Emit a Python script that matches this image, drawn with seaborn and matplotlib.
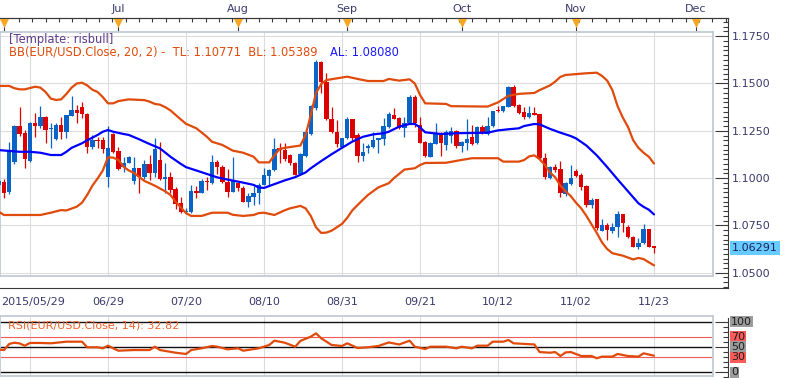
"""
EUR/USD daily candles with Bollinger Bands (20, 2) and RSI(14), 2015/05/29 - 2015/11/23.
Rebuilt as a static seaborn/matplotlib figure, saved to out.png.
"""
import matplotlib

matplotlib.use("Agg")
import matplotlib.pyplot as plt
import matplotlib.transforms as mtransforms
import numpy as np
import pandas as pd
import seaborn as sns
from matplotlib.ticker import FixedLocator

# ---------------------------------------------------------------- data
# bar index 0 = 2015/05/29, one bar per trading day, 126 = 2015/11/23
OPEN = [1.0965, 1.0981, 1.0925, 1.1087, 1.1277, 1.1238, 1.1092, 1.1293, 1.1277, 1.1324,
        1.1258, 1.1207, 1.1281, 1.1245, 1.1330, 1.1360, 1.1374, 1.1339, 1.1166, 1.1201,
        1.1201, 1.1004, 1.1233, 1.1145, 1.1060, 1.1081, 1.0986, 1.1052, 1.1007, 1.1073,
        1.1029, 1.1096, 1.0994, 1.1007, 1.0942, 1.0867, 1.0822, 1.0822, 1.0932, 1.0923,
        1.0986, 1.0976, 1.1087, 1.1057, 1.0981, 1.0928, 1.0972, 1.0946, 1.0875, 1.0902,
        1.0920, 1.0964, 1.1013, 1.1043, 1.1157, 1.1148, 1.1122, 1.1078, 1.1020, 1.1118,
        1.1231, 1.1369, 1.1615, 1.1509, 1.1312, 1.1242, 1.1166, 1.1210, 1.1312, 1.1228,
        1.1118, 1.1161, 1.1166, 1.1201, 1.1207, 1.1272, 1.1333, 1.1316, 1.1263, 1.1290,
        1.1430, 1.1281, 1.1192, 1.1113, 1.1180, 1.1228, 1.1175, 1.1222, 1.1249, 1.1170,
        1.1184, 1.1219, 1.1184, 1.1272, 1.1233, 1.1275, 1.1356, 1.1356, 1.1377, 1.1480,
        1.1386, 1.1351, 1.1321, 1.1342, 1.1339, 1.1105, 1.0999, 1.1057, 1.1048, 1.0916,
        1.0969, 1.1039, 1.1016, 1.0958, 1.0858, 1.0888, 1.0722, 1.0752, 1.0722, 1.0740,
        1.0810, 1.0740, 1.0690, 1.0637, 1.0655, 1.0729, 1.0641]
HIGH = [1.0998, 1.0995, 1.1192, 1.1280, 1.1376, 1.1254, 1.1298, 1.1344, 1.1381, 1.1330,
        1.1290, 1.1293, 1.1324, 1.1336, 1.1434, 1.1386, 1.1404, 1.1342, 1.1228, 1.1215,
        1.1215, 1.1277, 1.1238, 1.1163, 1.1113, 1.1117, 1.1111, 1.1055, 1.1096, 1.1122,
        1.1210, 1.1189, 1.1080, 1.1034, 1.0955, 1.0899, 1.0840, 1.0964, 1.0958, 1.0994,
        1.1007, 1.1122, 1.1096, 1.1069, 1.1048, 1.1110, 1.0981, 1.0958, 1.0920, 1.0958,
        1.0972, 1.1052, 1.1046, 1.1210, 1.1184, 1.1184, 1.1126, 1.1087, 1.1131, 1.1245,
        1.1386, 1.1624, 1.1618, 1.1555, 1.1377, 1.1307, 1.1212, 1.1324, 1.1314, 1.1237,
        1.1184, 1.1179, 1.1245, 1.1212, 1.1316, 1.1351, 1.1369, 1.1321, 1.1321, 1.1439,
        1.1439, 1.1321, 1.1194, 1.1192, 1.1293, 1.1245, 1.1254, 1.1272, 1.1254, 1.1194,
        1.1311, 1.1281, 1.1275, 1.1281, 1.1321, 1.1357, 1.1381, 1.1383, 1.1487, 1.1492,
        1.1391, 1.1377, 1.1381, 1.1374, 1.1341, 1.1134, 1.1062, 1.1075, 1.1092, 1.0981,
        1.1069, 1.1047, 1.1025, 1.0964, 1.0893, 1.0890, 1.0782, 1.0761, 1.0764, 1.0828,
        1.0812, 1.0752, 1.0692, 1.0682, 1.0757, 1.0731, 1.0643]
LOW = [1.0950, 1.0895, 1.0915, 1.1077, 1.1222, 1.1053, 1.1087, 1.1217, 1.1265, 1.1184,
       1.1157, 1.1201, 1.1208, 1.1210, 1.1328, 1.1293, 1.1316, 1.1134, 1.1152, 1.1157,
       1.1134, 1.0955, 1.1132, 1.1043, 1.1034, 1.1078, 1.0969, 1.0920, 1.0994, 1.0990,
       1.1007, 1.0990, 1.0921, 1.0923, 1.0835, 1.0816, 1.0810, 1.0816, 1.0895, 1.0920,
       1.0937, 1.0969, 1.1022, 1.0972, 1.0899, 1.0925, 1.0933, 1.0872, 1.0849, 1.0858,
       1.0863, 1.0962, 1.0964, 1.1038, 1.1078, 1.1090, 1.1069, 1.1014, 1.1016, 1.1113,
       1.1228, 1.1360, 1.1448, 1.1307, 1.1240, 1.1166, 1.1161, 1.1208, 1.1201, 1.1087,
       1.1090, 1.1131, 1.1161, 1.1131, 1.1175, 1.1266, 1.1310, 1.1261, 1.1216, 1.1288,
       1.1272, 1.1184, 1.1113, 1.1110, 1.1178, 1.1117, 1.1148, 1.1184, 1.1157, 1.1139,
       1.1148, 1.1175, 1.1180, 1.1233, 1.1228, 1.1272, 1.1351, 1.1351, 1.1374, 1.1377,
       1.1339, 1.1311, 1.1316, 1.1335, 1.1092, 1.0994, 1.0994, 1.1034, 1.0899, 1.0905,
       1.0964, 1.1007, 1.0937, 1.0846, 1.0840, 1.0726, 1.0720, 1.0673, 1.0708, 1.0690,
       1.0717, 1.0682, 1.0634, 1.0623, 1.0652, 1.0634, 1.0602]
CLOSE = [1.0987, 1.0923, 1.1148, 1.1277, 1.1233, 1.1101, 1.1293, 1.1277, 1.1324, 1.1254,
         1.1265, 1.1281, 1.1245, 1.1333, 1.1360, 1.1342, 1.1337, 1.1166, 1.1201, 1.1196,
         1.1154, 1.1157, 1.1139, 1.1047, 1.1081, 1.1110, 1.1052, 1.1007, 1.1073, 1.1029,
         1.1152, 1.0994, 1.1007, 1.0937, 1.0863, 1.0822, 1.0826, 1.0932, 1.0923, 1.0986,
         1.0978, 1.1087, 1.1057, 1.0981, 1.0928, 1.0986, 1.0946, 1.0875, 1.0905, 1.0920,
         1.0964, 1.1016, 1.1043, 1.1154, 1.1148, 1.1101, 1.1078, 1.1016, 1.1126, 1.1242,
         1.1383, 1.1614, 1.1509, 1.1312, 1.1242, 1.1179, 1.1210, 1.1312, 1.1210, 1.1118,
         1.1139, 1.1171, 1.1201, 1.1210, 1.1277, 1.1337, 1.1312, 1.1263, 1.1290, 1.1430,
         1.1290, 1.1187, 1.1117, 1.1184, 1.1231, 1.1184, 1.1245, 1.1249, 1.1170, 1.1192,
         1.1205, 1.1180, 1.1272, 1.1237, 1.1275, 1.1355, 1.1353, 1.1381, 1.1480, 1.1381,
         1.1342, 1.1321, 1.1342, 1.1335, 1.1105, 1.1004, 1.1060, 1.1043, 1.0920, 1.0976,
         1.0999, 1.1011, 1.0951, 1.0858, 1.0884, 1.0735, 1.0752, 1.0726, 1.0743, 1.0810,
         1.0761, 1.0687, 1.0637, 1.0659, 1.0729, 1.0637, 1.06291]

# Bollinger Bands (20, 2) at these bars
BB_UP_BAR = [0, 2, 3, 4, 5, 7, 8, 9, 10, 11, 12, 13, 14, 15, 16, 17, 18, 19, 20, 21, 22, 23, 25,
             28, 29, 30, 31, 32, 33, 35, 36, 38, 40, 41, 43, 45, 47, 49, 50, 52, 53, 54, 55, 58,
             59, 60, 61, 62, 63, 67, 69, 71, 74, 75, 77, 79, 80, 81, 82, 86, 87, 94, 96, 98,
             100, 103, 104, 106, 107, 108, 109, 113, 115, 116, 117, 118, 119, 120, 121, 122,
             123, 124, 125, 126]
BB_UP = [1.1487, 1.1487, 1.1475, 1.1469, 1.1469, 1.1483, 1.1478, 1.1455, 1.1420, 1.1413, 1.1416,
         1.1445, 1.1478, 1.1500, 1.1504, 1.1490, 1.1467, 1.1455, 1.1428, 1.1395, 1.1395, 1.1407,
         1.1416, 1.1412, 1.1404, 1.1392, 1.1388, 1.1375, 1.1358, 1.1310, 1.1287, 1.1263, 1.1219,
         1.1192, 1.1175, 1.1145, 1.1134, 1.1113, 1.1083, 1.1083, 1.1120, 1.1154, 1.1160, 1.1172,
         1.1228, 1.1333, 1.1450, 1.1497, 1.1518, 1.1536, 1.1524, 1.1513, 1.1513, 1.1524, 1.1515,
         1.1522, 1.1500, 1.1440, 1.1395, 1.1392, 1.1380, 1.1378, 1.1400, 1.1435, 1.1445, 1.1450,
         1.1465, 1.1490, 1.1510, 1.1535, 1.1545, 1.1554, 1.1557, 1.1540, 1.1515, 1.1465, 1.1380,
         1.1320, 1.1270, 1.1200, 1.1160, 1.1134, 1.1113, 1.10771]

BB_MID_BAR = [0, 4, 6, 8, 10, 12, 13, 14, 16, 17, 19, 20, 21, 22, 24, 25, 27, 29, 31, 33, 35,
              36, 38, 40, 42, 44, 47, 49, 50, 51, 53, 55, 57, 59, 60, 62, 64, 66, 68, 70, 72,
              74, 75, 77, 79, 80, 81, 82, 85, 88, 94, 96, 98, 100, 101, 103, 104, 106, 108,
              110, 111, 113, 115, 117, 119, 121, 123, 124, 125, 126]
BB_MID = [1.1148, 1.1139, 1.1139, 1.1134, 1.1122, 1.1122, 1.1139, 1.1160, 1.1184, 1.1200, 1.1228,
          1.1245, 1.1254, 1.1245, 1.1233, 1.1228, 1.1205, 1.1180, 1.1157, 1.1113, 1.1075, 1.1058,
          1.1040, 1.1022, 1.1004, 1.0992, 1.0976, 1.0964, 1.0950, 1.0948, 1.0968, 1.0988, 1.1005,
          1.1030, 1.1052, 1.1090, 1.1126, 1.1160, 1.1193, 1.1218, 1.1231, 1.1237, 1.1245, 1.1272,
          1.1286, 1.1286, 1.1268, 1.1242, 1.1233, 1.1237, 1.1240, 1.1252, 1.1258, 1.1263, 1.1275,
          1.1286, 1.1284, 1.1260, 1.1240, 1.1222, 1.1210, 1.1172, 1.1120, 1.1058, 1.0993, 1.0930,
          1.0867, 1.0848, 1.0833, 1.08080]

BB_LOW_BAR = [0, 1, 8, 10, 12, 13, 15, 16, 17, 18, 19, 20, 21, 22, 23, 24, 25, 26, 28, 30, 32,
              33, 34, 36, 37, 39, 41, 44, 45, 47, 49, 50, 51, 53, 55, 56, 58, 59, 60, 61, 62, 63,
              64, 66, 67, 68, 70, 71, 73, 75, 76, 78, 80, 81, 82, 86, 89, 91, 96, 97, 100, 101,
              102, 103, 104, 105, 106, 107, 108, 109, 110, 111, 112, 113, 114, 115, 116, 117,
              118, 120, 122, 123, 124, 125, 126]
BB_LOW = [1.0822, 1.0805, 1.0805, 1.0817, 1.0831, 1.0829, 1.0849, 1.0870, 1.0911, 1.0960, 1.0998,
          1.1040, 1.1110, 1.1108, 1.1096, 1.1060, 1.1040, 1.1027, 1.0985, 1.0960, 1.0930, 1.0911,
          1.0875, 1.0815, 1.0800, 1.0800, 1.0817, 1.0817, 1.0806, 1.0800, 1.0805, 1.0815, 1.0817,
          1.0805, 1.0830, 1.0840, 1.0853, 1.0840, 1.0800, 1.0740, 1.0710, 1.0712, 1.0722, 1.0758,
          1.0790, 1.0830, 1.0885, 1.0911, 1.0951, 1.0973, 1.1000, 1.1045, 1.1052, 1.1069, 1.1080,
          1.1081, 1.1096, 1.1105, 1.1105, 1.1087, 1.1087, 1.1095, 1.1115, 1.1120, 1.1100, 1.1070,
          1.1030, 1.1004, 1.0960, 1.0930, 1.0905, 1.0870, 1.0840, 1.0800, 1.0755, 1.0710, 1.0660,
          1.0625, 1.0603, 1.0590, 1.0570, 1.0578, 1.0572, 1.0555, 1.05389]

# RSI(14)
RSI_BAR = [0, 1, 2, 3, 4, 5, 6, 8, 10, 13, 16, 17, 19, 20, 21, 22, 23, 26, 29, 30, 31, 34, 36,
           37, 39, 41, 42, 44, 46, 47, 50, 52, 53, 55, 57, 58, 60, 61, 62, 64, 66, 67, 69, 71,
           73, 75, 77, 79, 80, 82, 83, 86, 88, 89, 91, 92, 94, 95, 97, 98, 99, 103, 104, 106,
           107, 108, 109, 110, 112, 114, 115, 116, 118, 119, 121, 123, 124, 126]
RSI = [45.0, 44.0, 56.0, 58.5, 57.0, 52.6, 58.0, 58.0, 57.3, 60.5, 60.5, 49.4, 49.4, 47.4, 52.6,
       47.4, 42.7, 44.0, 44.0, 50.6, 44.0, 38.7, 36.2, 44.0, 47.4, 52.0, 50.6, 45.4, 47.4, 42.7,
       47.4, 54.0, 62.5, 58.5, 50.6, 62.0, 70.4, 77.0, 67.2, 54.0, 52.0, 57.3, 48.0, 49.4, 52.0,
       59.0, 55.0, 62.5, 50.6, 46.0, 50.6, 50.6, 47.4, 50.6, 47.4, 52.6, 52.6, 60.5, 60.5, 63.8,
       57.3, 55.0, 40.0, 38.7, 40.0, 32.2, 39.3, 40.0, 32.2, 32.2, 27.7, 31.0, 31.0, 36.2, 32.2,
       31.0, 37.5, 32.82]

# axis labelling
DATE_BARS = [6, 21, 36, 51, 66, 81, 96, 111, 126]
DATE_LABELS = ["", "06/29", "07/20", "08/10", "08/31", "09/21", "10/12", "11/02", "11/23"]
FIRST_DATE = "2015/05/29"
MONTH_BARS = [1, 23, 46, 67, 89, 111, 134]
MONTH_LABELS = ["", "Jul", "Aug", "Sep", "Oct", "Nov", "Dec"]
PRICE_LEVELS = [1.05, 1.075, 1.10, 1.125, 1.15, 1.175]
RSI_LEVELS = [100, 70, 50, 30, 0]
LAST_PRICE = 1.06291
TL, BL, AL = 1.10771, 1.05389, 1.08080
RSI_LAST = 32.82

# ---------------------------------------------------------------- style
BLUE_C = "#0a64c8"
RED_C = "#dc0000"
BB_C = "#e04a0a"
MID_C = "#0000ff"
GRID_C = "#dcdcdc"
PANEL_C = "#c2cad4"
AXIS_C = "#3a3a3a"
LABEL_C = "#3a3a6e"
FS = 8

# pixel layout of the original screenshot
FIG_W, FIG_H = 786, 378
PX_PER_BAR, BAR0_PX = 5.2, -1.2


def bar_at(px):
    return (px - BAR0_PX) / PX_PER_BAR


def price_at(py):
    return 1.19412 - 0.0005285 * py


def rsi_at(py):
    return (372.3 - py) / 0.506


def rect(x0, y0, x1, y1):
    return [x0 / FIG_W, 1 - y1 / FIG_H, (x1 - x0) / FIG_W, (y1 - y0) / FIG_H]


def px(n):
    return n * 0.72  # pixels -> points at 100 dpi


sns.set_theme(style="white")
plt.rcParams["font.family"] = ["DejaVu Sans"]
plt.rcParams["axes.unicode_minus"] = False

fig = plt.figure(figsize=(FIG_W / 100, FIG_H / 100), dpi=100)
fig.patch.set_facecolor("white")

# ---------------------------------------------------------------- price frame (outer axis lines)
frame = fig.add_axes(rect(0, 18, 728, 288))
frame.set_xlim(bar_at(0), bar_at(728))
frame.set_ylim(price_at(288), price_at(18))
frame.set_facecolor("white")
frame.spines["left"].set_visible(False)
for side in ("top", "right", "bottom"):
    frame.spines[side].set_color(AXIS_C)
    frame.spines[side].set_linewidth(0.8)
frame.set_xticks(DATE_BARS, DATE_LABELS)
frame.xaxis.set_minor_locator(FixedLocator(np.arange(0.375, bar_at(728), 1.875)))
frame.yaxis.tick_right()
frame.set_yticks(PRICE_LEVELS, [f"{v:.4f}" for v in PRICE_LEVELS])
frame.yaxis.set_minor_locator(FixedLocator(np.arange(1.0425, 1.185, 0.0025)))
frame.tick_params(axis="x", which="major", direction="in", length=px(8), width=0.8,
                  color=AXIS_C, pad=px(9), labelsize=FS, labelcolor=LABEL_C)
frame.tick_params(axis="x", which="minor", direction="in", length=px(4), width=0.8, color=AXIS_C)
frame.tick_params(axis="y", which="major", direction="in", length=px(13), width=0.8,
                  color=AXIS_C, pad=px(4), labelsize=FS, labelcolor=LABEL_C,
                  right=True, left=False, labelright=True, labelleft=False)
frame.tick_params(axis="y", which="minor", direction="in", length=px(5), width=0.8,
                  color=AXIS_C, right=True, left=False)
frame.annotate(FIRST_DATE, xy=(0, 0), xycoords="axes fraction", xytext=(px(1), -px(9)),
               textcoords="offset points", ha="left", va="top", fontsize=FS, color=LABEL_C)

top = frame.secondary_xaxis("top")
top.set_xticks(MONTH_BARS, MONTH_LABELS)
top.xaxis.set_minor_locator(FixedLocator(np.arange(3.885, bar_at(728), 2.564)))
top.tick_params(which="major", direction="in", length=px(13), width=0.8, color=AXIS_C,
                pad=px(4), labelsize=FS, labelcolor=LABEL_C)
top.tick_params(which="minor", direction="in", length=px(4), width=0.8, color=AXIS_C)
top.spines["top"].set_color(AXIS_C)
top.spines["top"].set_linewidth(0.8)

tri = mtransforms.blended_transform_factory(frame.transData, frame.transAxes)
frame.scatter(MONTH_BARS, [(288 - 23) / 270] * len(MONTH_BARS), transform=tri, marker="v",
              s=px(9) ** 2, color="#f5a623", linewidths=0, zorder=6, clip_on=False)

frame.annotate(f"{LAST_PRICE:.5f}", xy=(1, LAST_PRICE), xycoords=("axes fraction", "data"),
               xytext=(px(4), 0), textcoords="offset points", ha="left", va="center",
               fontsize=FS, color="#20205a",
               bbox=dict(boxstyle="square,pad=0.2", fc="#66ccff", ec="none"))

# ---------------------------------------------------------------- price panel
ax = fig.add_axes(rect(0, 32, 713, 276))
ax.set_xlim(bar_at(0), bar_at(713))
ax.set_ylim(price_at(276), price_at(32))
ax.set_facecolor("white")
ax.set_xticks(DATE_BARS)
ax.set_yticks(PRICE_LEVELS)
ax.tick_params(length=0, labelbottom=False, labelleft=False)
ax.grid(True, color=GRID_C, linewidth=0.8)
ax.set_axisbelow(True)
for side in ax.spines.values():
    side.set_color(PANEL_C)
    side.set_linewidth(1.3)

candles = pd.DataFrame({"open": OPEN, "high": HIGH, "low": LOW, "close": CLOSE})
candles["bar"] = np.arange(len(candles))
candles["up"] = candles["close"] >= candles["open"]
colors = np.where(candles["up"], BLUE_C, RED_C)
body_lo = candles[["open", "close"]].min(axis=1)
body_h = (candles["close"] - candles["open"]).abs().clip(lower=0.0006)
ax.vlines(candles["bar"], candles["low"], candles["high"], colors=colors, linewidth=0.9,
          zorder=3)
ax.bar(candles["bar"], body_h, bottom=body_lo, width=0.82, color=colors, linewidth=0,
       zorder=3.5)

for bars, vals, col in ((BB_UP_BAR, BB_UP, BB_C), (BB_LOW_BAR, BB_LOW, BB_C),
                        (BB_MID_BAR, BB_MID, MID_C)):
    sns.lineplot(x=bars, y=vals, ax=ax, color=col, linewidth=1.6, estimator=None,
                 zorder=4)
ax.set_xlabel("")
ax.set_ylabel("")

HEAD_FS = 8.3
fig.text(9 / FIG_W, 1 - 39 / FIG_H, "[Template: risbull]", ha="left", va="center",
         fontsize=HEAD_FS, color="#5e3c8c")
fig.text(9 / FIG_W, 1 - 52 / FIG_H,
         f"BB(EUR/USD.Close, 20, 2) -  TL: {TL:.5f}  BL: {BL:.5f}",
         ha="left", va="center", fontsize=HEAD_FS, color=BB_C)
fig.text(330 / FIG_W, 1 - 52 / FIG_H, f"AL: {AL:.5f}", ha="left", va="center",
         fontsize=HEAD_FS, color="#1a1aff")

# ---------------------------------------------------------------- RSI frame
rframe = fig.add_axes(rect(0, 318, 728, 378))
rframe.set_xlim(bar_at(0), bar_at(728))
rframe.set_ylim(rsi_at(378), rsi_at(318))
rframe.set_facecolor("white")
for side in ("left", "top", "bottom"):
    rframe.spines[side].set_visible(False)
rframe.spines["right"].set_color(AXIS_C)
rframe.spines["right"].set_linewidth(0.8)
rframe.set_xticks([])
rframe.yaxis.tick_right()
rframe.set_yticks([0, 50, 100])
rframe.yaxis.set_minor_locator(FixedLocator(np.arange(-10, 110, 10)))
rframe.tick_params(axis="y", which="major", direction="in", length=px(13), width=0.8,
                   color=AXIS_C, labelright=False, labelleft=False, right=True, left=False)
rframe.tick_params(axis="y", which="minor", direction="in", length=px(5), width=0.8,
                   color=AXIS_C, right=True, left=False)
for lvl in RSI_LEVELS:
    bg = "#ff5a5a" if lvl in (70, 30) else "#9c9c9c"
    rframe.annotate(str(lvl), xy=(1, lvl), xycoords=("axes fraction", "data"),
                    xytext=(px(3), 0), textcoords="offset points", ha="left", va="center",
                    fontsize=FS, color="#1e1e1e",
                    bbox=dict(boxstyle="square,pad=0.05", fc=bg, ec="none"))

# ---------------------------------------------------------------- RSI panel
rax = fig.add_axes(rect(0, 316, 713, 376))
rax.set_xlim(bar_at(0), bar_at(713))
rax.set_ylim(rsi_at(376), rsi_at(316))
rax.set_facecolor("white")
rax.set_xticks(DATE_BARS)
rax.set_yticks([])
rax.tick_params(length=0, labelbottom=False, labelleft=False)
rax.grid(True, axis="x", color=GRID_C, linewidth=0.8)
rax.set_axisbelow(True)
for side in rax.spines.values():
    side.set_color(PANEL_C)
    side.set_linewidth(1.3)
for lvl in RSI_LEVELS:
    if lvl in (70, 30):
        rax.axhline(lvl, color="#f05a5a", linewidth=0.8, zorder=2)
    else:
        rax.axhline(lvl, color="#111111", linewidth=1.0, zorder=2)
sns.lineplot(x=RSI_BAR, y=RSI, ax=rax, color=BB_C, linewidth=1.6, estimator=None, zorder=4)
rax.set_xlabel("")
rax.set_ylabel("")
rax.text(8 / 713, (376 - 325) / 60, f"RSI(EUR/USD.Close, 14): {RSI_LAST:.2f}",
         transform=rax.transAxes, ha="left", va="center", fontsize=FS, color="#f0642d",
         zorder=5)

fig.savefig("out.png", dpi=100, facecolor="white")
